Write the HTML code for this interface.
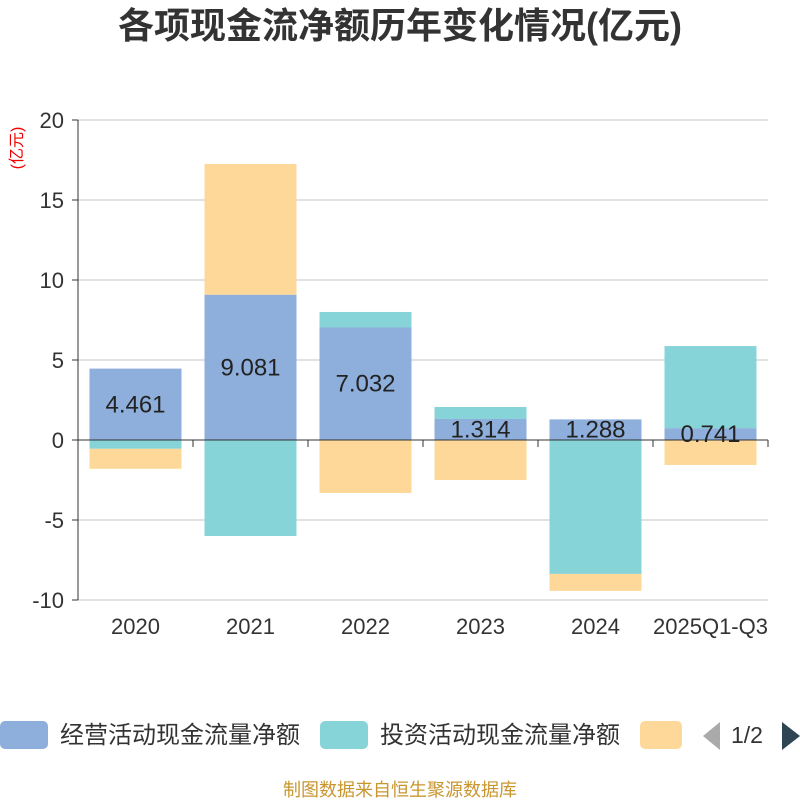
<!DOCTYPE html>
<html><head><meta charset="utf-8"><style>
body{margin:0;background:#fff;}
svg text{font-family:"Liberation Sans","Noto Sans CJK SC",sans-serif;}
</style></head><body>
<svg id="chart" width="800" height="800" xmlns="http://www.w3.org/2000/svg">
<text x="400" y="38" text-anchor="middle" font-size="36" font-weight="bold" fill="#333">各项现金流净额历年变化情况(亿元)</text>
<text transform="translate(22,148) rotate(-90)" text-anchor="middle" font-size="16" fill="#e00">(亿元)</text>
<g id="grid"></g><g id="bars"></g><g id="axes"></g>
<g>
<rect x="0" y="721" width="48" height="28" rx="5" fill="#8eaedb"/>
<text x="60" y="743" font-size="24" fill="#333">经营活动现金流量净额</text>
<rect x="320" y="721" width="48" height="28" rx="5" fill="#87d4d8"/>
<text x="380" y="743" font-size="24" fill="#333">投资活动现金流量净额</text>
<rect x="640" y="721" width="42" height="28" rx="5" fill="#fed899"/>
<polygon points="720,722 720,750 703,736" fill="#aaa"/>
<text x="731" y="743" font-size="23" fill="#333">1/2</text>
<polygon points="782,722 782,750 800,736" fill="#2f4554"/>
</g>
<text x="400" y="796" text-anchor="middle" font-size="18" fill="#c8962e">制图数据来自恒生聚源数据库</text>
</svg>
<script>
const categories=["2020","2021","2022","2023","2024","2025Q1-Q3"];
const operating=[4.461,9.081,7.032,1.314,1.288,0.741];
const investing=[-0.55,-6.0,0.97,0.75,-8.37,5.13];
const financing=[-1.25,8.17,-3.31,-2.5,-1.06,-1.56];
const yTicks=[-10,-5,0,5,10,15,20];
const NS="http://www.w3.org/2000/svg";
const x0=78,x1=768,yMin=-10,yMax=20,py0=600,py1=120;
const y=v=>py0-(v-yMin)/(yMax-yMin)*(py0-py1);
const bw=(x1-x0)/categories.length;
const xc=i=>x0+bw*(i+0.5);
function mk(p,t,a){const e=document.createElementNS(NS,t);for(const k in a)e.setAttribute(k,a[k]);document.getElementById(p).appendChild(e);return e;}
yTicks.forEach(t=>{
 const l=mk('grid','line',{x1:x0,x2:x1,y1:y(t),y2:y(t),stroke:'#c4c4c4'});
 
 
 const tk=mk('axes','line',{x1:x0-6,x2:x0,y1:y(t),y2:y(t),stroke:'#333'});
 
 
 const tx=mk('axes','text',{x:x0-14,y:y(t)+8,'text-anchor':'end','font-size':22,fill:'#333'});
 tx.textContent=t;
 
 
});
const ya=mk('axes','line',{x1:x0,x2:x0,y1:py1,y2:py0,stroke:'#333'});


const xa=mk('axes','line',{x1:x0,x2:x1,y1:y(0),y2:y(0),stroke:'#333'});


for(let i=0;i<=categories.length;i++){
 const t=mk('axes','line',{x1:x0+bw*i,x2:x0+bw*i,y1:y(0),y2:y(0)+7,stroke:'#333'});
 
 
}
const series=[[operating,'#8eaedb','operating'],[investing,'#87d4d8','investing'],[financing,'#fed899','financing']];
categories.forEach((c,i)=>{
 let pos=0,neg=0;
 series.forEach(([arr,col,nm])=>{
  const v=arr[i];let a,b;
  if(v>=0){a=pos;b=pos+v;pos=b;}else{a=neg;b=neg+v;neg=b;}
  const r=mk('bars','rect',{x:xc(i)-46,width:92,y:Math.min(y(a),y(b)),height:Math.abs(y(a)-y(b)),fill:col});
  
  
 });
 const lb=mk('axes','text',{x:xc(i),y:y(operating[i]/2)+8,'text-anchor':'middle','font-size':24,fill:'#222'});
 lb.textContent=operating[i].toFixed(3);
 
 
 const xl=mk('axes','text',{x:xc(i),y:634,'text-anchor':'middle','font-size':22,fill:'#333'});
 xl.textContent=c;
 
 
});
</script>
</body></html>
